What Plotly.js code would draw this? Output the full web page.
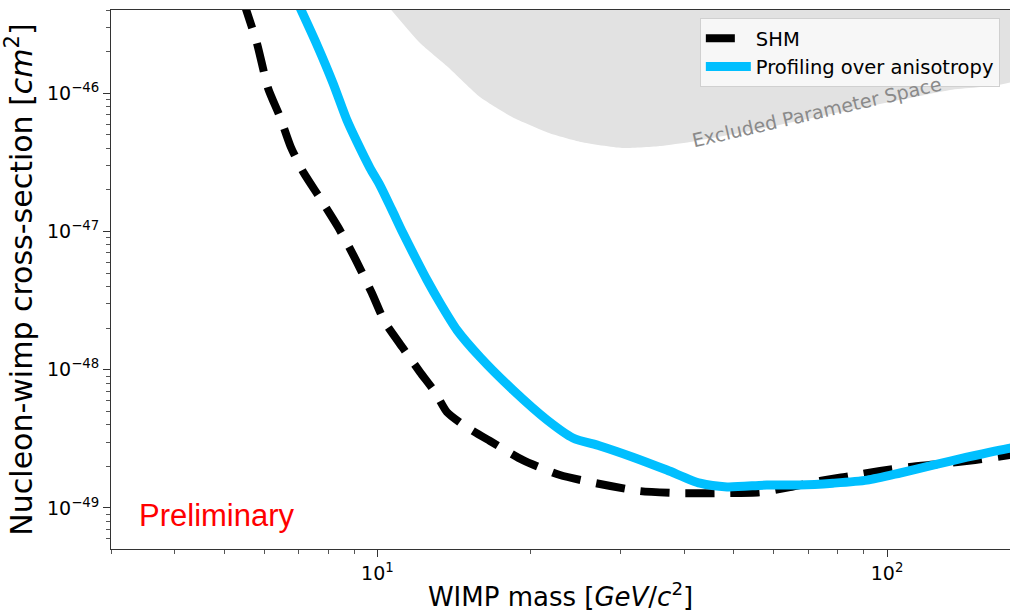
<!DOCTYPE html>
<html>
<head>
<meta charset="utf-8">
<script src="https://cdn.plot.ly/plotly-3.0.1.min.js"></script>
<style>
html,body{margin:0;padding:0;background:#fff;}
#chart{width:1010px;height:612px;}
</style>
</head>
<body>
<div id="chart"></div>
<script>
// WIMP mass [GeV/c^2] and cross-section [cm^2]
const shmMass = [5.45, 5.80, 6.10, 6.44, 6.76, 7.17, 7.71, 8.37, 9.03, 9.75, 10.34, 11.22, 12.12, 12.97, 13.69, 14.85, 16.63, 19.30, 22.81, 27.34, 32.75, 39.24, 47.0, 56.3, 64.5, 73.9, 84.6, 96.9, 110.9, 127.1, 148.8, 174.3, 180];
const shmSigma = [4.7e-46, 2.31e-46, 1.09e-46, 6.74e-47, 4.09e-47, 2.65e-47, 1.75e-47, 1.078e-47, 6.43e-48, 3.59e-48, 2.21e-48, 1.435e-48, 9.62e-49, 6.90e-49, 4.94e-49, 3.92e-49, 3.05e-49, 2.22e-49, 1.73e-49, 1.49e-49, 1.325e-49, 1.28e-49, 1.28e-49, 1.30e-49, 1.416e-49, 1.567e-49, 1.70e-49, 1.85e-49, 1.98e-49, 2.08e-49, 2.22e-49, 2.415e-49, 2.45e-49];

const profMass = [6.98, 7.61, 8.18, 8.71, 9.12, 9.67, 10.11, 10.68, 11.22, 11.85, 12.51, 13.27, 14.32, 15.89, 18.45, 21.52, 24.19, 27.34, 31.73, 36.99, 42.95, 48.53, 58.1, 67.5, 78.3, 91.4, 106.1, 123.1, 143.5, 174.3, 180];
const profSigma = [4.5e-46, 2.24e-46, 1.187e-46, 6.41e-47, 4.44e-47, 2.88e-47, 2.17e-47, 1.43e-47, 9.75e-48, 6.54e-48, 4.46e-48, 3.04e-48, 1.94e-48, 1.236e-48, 7.13e-49, 4.33e-49, 3.21e-49, 2.81e-49, 2.33e-49, 1.88e-49, 1.51e-49, 1.42e-49, 1.465e-49, 1.465e-49, 1.51e-49, 1.59e-49, 1.79e-49, 2.04e-49, 2.33e-49, 2.71e-49, 2.75e-49];

// Excluded parameter space boundary (closed polygon reaching above the plot top)
const exclMass = [10.25, 12.12, 13.75, 15.89, 18.37, 21.71, 25.09, 30.2, 36.0, 41.06, 53.8, 84.6, 132.9, 180, 180, 10.25];
const exclSigma = [4.73e-46, 2.31e-46, 1.55e-46, 9.4e-47, 6.74e-47, 5.16e-47, 4.44e-47, 4.02e-47, 4.16e-47, 4.44e-47, 5.33e-47, 7.57e-47, 1.057e-46, 1.27e-46, 1e-45, 1e-45];

const seriesNames = ['SHM', 'Profiling over anisotropy'];

const xTickVals = [10, 100];
const xTickText = ['10<sup>1</sup>', '10<sup>2</sup>'];
const xMinorVals = [3, 4, 5, 6, 7, 8, 9, 20, 30, 40, 50, 60, 70, 80, 90];
const yTickVals = [1e-49, 1e-48, 1e-47, 1e-46];
const yTickText = ['10<sup>\u221249</sup>', '10<sup>\u221248</sup>', '10<sup>\u221247</sup>', '10<sup>\u221246</sup>'];
const yMinorVals = [6e-50, 7e-50, 8e-50, 9e-50,
  2e-49, 3e-49, 4e-49, 5e-49, 6e-49, 7e-49, 8e-49, 9e-49,
  2e-48, 3e-48, 4e-48, 5e-48, 6e-48, 7e-48, 8e-48, 9e-48,
  2e-47, 3e-47, 4e-47, 5e-47, 6e-47, 7e-47, 8e-47, 9e-47,
  2e-46, 3e-46, 4e-46];

const font = 'DejaVu Sans, sans-serif';

const traces = [
  {
    x: exclMass, y: exclSigma, type: 'scatter', mode: 'lines',
    fill: 'toself', fillcolor: '#e2e2e2', line: {width: 0, color: '#e2e2e2', shape: 'spline', smoothing: 0.5},
    showlegend: false, hoverinfo: 'skip'
  },
  {
    x: shmMass, y: shmSigma, type: 'scatter', mode: 'lines', name: seriesNames[0],
    line: {color: '#000000', width: 8, dash: '29px,16px', shape: 'spline', smoothing: 0.6}
  },
  {
    x: profMass, y: profSigma, type: 'scatter', mode: 'lines', name: seriesNames[1],
    line: {color: '#00BFFF', width: 9, shape: 'spline', smoothing: 0.7}
  }
];

const layout = {
  width: 1010, height: 612,
  margin: {l: 111, r: 0, t: 10, b: 63, pad: 0},
  paper_bgcolor: '#ffffff', plot_bgcolor: '#ffffff',
  font: {family: font, color: '#000'},
  showlegend: true,
  legend: {
    x: 0.655, y: 0.985, xanchor: 'left', yanchor: 'top',
    bgcolor: 'rgba(250,250,250,0.9)', bordercolor: '#d0d0d0', borderwidth: 1,
    font: {family: font, size: 19.5, color: '#000'},
    itemwidth: 45, tracegroupgap: 0
  },
  xaxis: {
    type: 'log', range: [Math.log10(3), Math.log10(174.3)],
    tickmode: 'array', tickvals: xTickVals, ticktext: xTickText,
    ticks: 'outside', ticklen: 7, tickwidth: 1, tickcolor: '#333',
    minor: {tickmode: 'array', tickvals: xMinorVals, ticks: 'outside', ticklen: 4, tickcolor: '#555', showgrid: false},
    showline: true, linecolor: '#333', linewidth: 1, mirror: true,
    showgrid: false, zeroline: false,
    tickfont: {family: font, size: 19, color: '#000'},
    title: {text: 'WIMP mass [<i>GeV</i>/<i>c</i><sup>2</sup>]', font: {family: font, size: 26, color: '#000'}, standoff: 5}
  },
  yaxis: {
    type: 'log', range: [-49.297, -45.397],
    tickmode: 'array', tickvals: yTickVals, ticktext: yTickText,
    ticks: 'outside', ticklen: 7, tickwidth: 1, tickcolor: '#333',
    minor: {tickmode: 'array', tickvals: yMinorVals, ticks: 'outside', ticklen: 4, tickcolor: '#555', showgrid: false},
    showline: true, linecolor: '#333', linewidth: 1, mirror: false,
    showgrid: false, zeroline: false,
    tickfont: {family: font, size: 19, color: '#000'},
    title: {text: 'Nucleon-wimp cross-section [<i>cm</i><sup>2</sup>]', font: {family: font, size: 30, color: '#000'}, standoff: 8}
  },
  annotations: [
    {
      text: 'Preliminary', xref: 'paper', yref: 'paper', x: 0.029, y: 0.063,
      xanchor: 'left', yanchor: 'middle', showarrow: false,
      font: {family: 'Liberation Sans, Arial, sans-serif', size: 31, color: '#ff0000'}
    },
    {
      text: 'Excluded Parameter Space', xref: 'paper', yref: 'paper', x: 0.785, y: 0.811,
      xanchor: 'center', yanchor: 'middle', showarrow: false, textangle: -13,
      font: {family: font, size: 19, color: '#8a8a8a'}
    }
  ]
};

Plotly.newPlot('chart', traces, layout, {staticPlot: true, displayModeBar: false});
</script>
</body>
</html>
